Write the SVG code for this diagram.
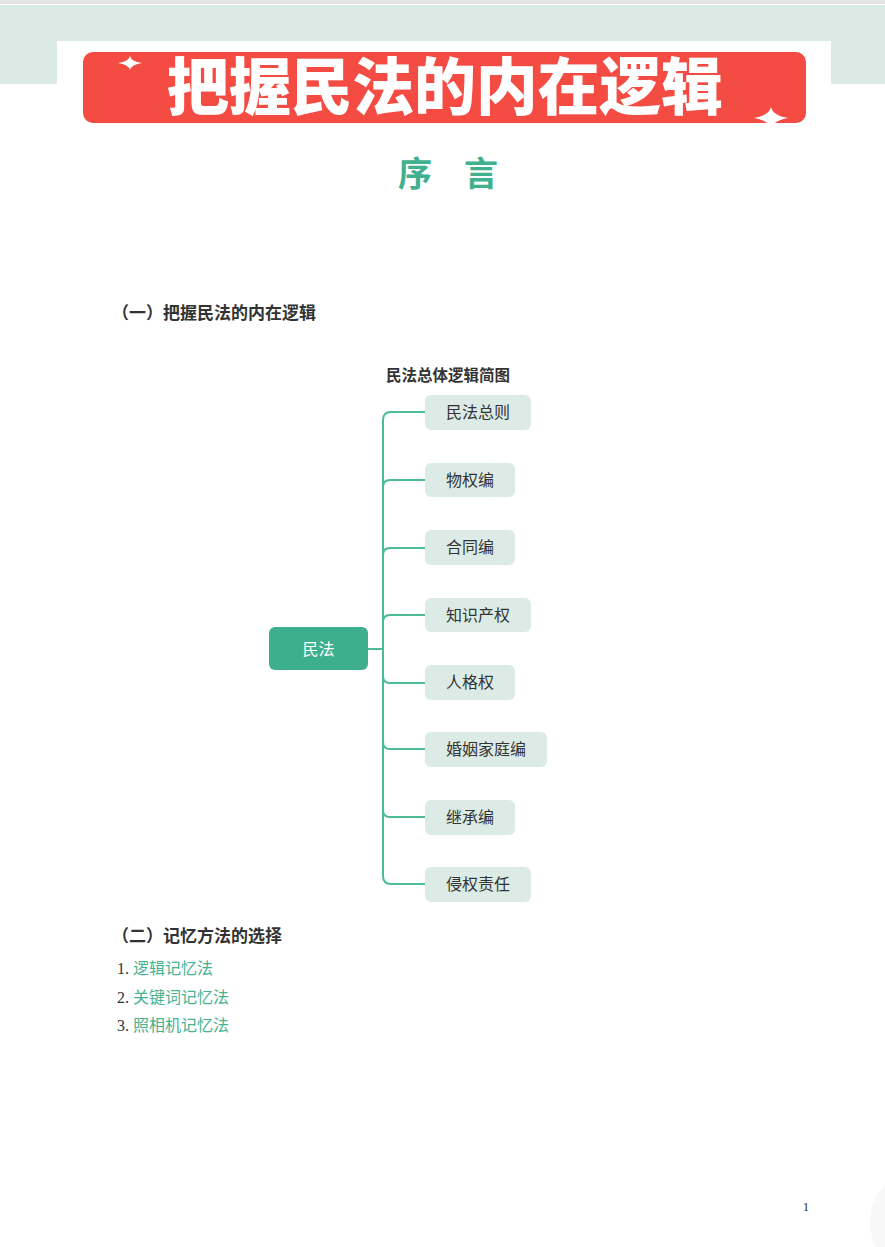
<svg xmlns="http://www.w3.org/2000/svg" width="885" height="1247" viewBox="0 0 885 1247">
<style>
.h{font-family:"Noto Sans CJK SC","Liberation Sans",sans-serif;font-weight:700;fill:#333;}
.leaf rect{fill:#dcebe6;}
.leaf text{font-family:"Liberation Serif","Noto Sans CJK SC",serif;font-size:16px;fill:#333;text-anchor:middle;}
.ln{fill:none;stroke:#4dba98;stroke-width:2;}
.num{font-family:"Liberation Serif","Noto Sans CJK SC",serif;font-size:16px;fill:#333;}
.g{font-family:"Noto Sans CJK SC","Liberation Sans",sans-serif;font-size:16px;fill:#45b391;}
</style>
<rect x="0" y="0" width="885" height="1247" fill="#ffffff"/>
<rect x="0" y="0" width="885" height="4" fill="#e4e4e4"/>
<rect x="0" y="5" width="885" height="79" fill="#dbeae5"/>
<rect x="57" y="41" width="774" height="60" fill="#ffffff"/>
<g id="banner">
<rect x="83" y="52" width="723" height="71" rx="10" fill="#f44b43"/>
<text x="445" y="110" font-family="Noto Sans CJK SC, sans-serif" font-weight="900" font-size="62" fill="#ffffff" text-anchor="middle" textLength="556" lengthAdjust="spacing">把握民法的内在逻辑</text>
<path d="M130 56 Q131.5 61.5 142 63 Q131.5 64.5 130 70 Q128.5 64.5 118 63 Q128.5 61.5 130 56 Z" fill="#ffffff"/>
<path d="M771 107 Q773 115.5 788 118 Q773 120.5 771 129 Q769 120.5 754 118 Q769 115.5 771 107 Z" fill="#ffffff"/>
</g>
<text x="398" y="186" font-family="Noto Sans CJK SC, sans-serif" font-weight="700" font-size="34" fill="#41b08e">序<tspan x="464">言</tspan></text>
<text class="h" x="112" y="319" font-size="17">（一）把握民法的内在逻辑</text>
<text class="h" x="448" y="381" font-size="15.5" text-anchor="middle">民法总体逻辑简图</text>
<g id="connectors">
<path class="ln" d="M368 649 H383"/>
<path class="ln" d="M425 412 H391 Q383 412 383 420 V876 Q383 884 391 884 H425"/>
<path class="ln" d="M425 480 H390 Q383 480 383 487"/>
<path class="ln" d="M425 548 H390 Q383 548 383 555"/>
<path class="ln" d="M425 615 H390 Q383 615 383 622"/>
<path class="ln" d="M425 683 H390 Q383 683 383 676"/>
<path class="ln" d="M425 749 H390 Q383 749 383 742"/>
<path class="ln" d="M425 817 H390 Q383 817 383 810"/>
</g>
<g id="root">
<rect x="269" y="627" width="99" height="43" rx="6" fill="#3daf8c"/>
<text x="318.5" y="655" font-family="Noto Sans CJK SC, sans-serif" font-size="16" fill="#ffffff" text-anchor="middle">民法</text>
</g>
<g id="n1" class="leaf"><rect x="425" y="395" width="106" height="35" rx="6"/><text x="478" y="418">民法总则</text></g>
<g id="n2" class="leaf"><rect x="425" y="463" width="90" height="34" rx="6"/><text x="470" y="486">物权编</text></g>
<g id="n3" class="leaf"><rect x="425" y="530" width="90" height="35" rx="6"/><text x="470" y="553">合同编</text></g>
<g id="n4" class="leaf"><rect x="425" y="598" width="106" height="34" rx="6"/><text x="478" y="621">知识产权</text></g>
<g id="n5" class="leaf"><rect x="425" y="665" width="90" height="35" rx="6"/><text x="470" y="688">人格权</text></g>
<g id="n6" class="leaf"><rect x="425" y="732" width="122" height="35" rx="6"/><text x="486" y="755">婚姻家庭编</text></g>
<g id="n7" class="leaf"><rect x="425" y="800" width="90" height="35" rx="6"/><text x="470" y="823">继承编</text></g>
<g id="n8" class="leaf"><rect x="425" y="867" width="106" height="35" rx="6"/><text x="478" y="890">侵权责任</text></g>
<text class="h" x="112" y="942" font-size="17">（二）记忆方法的选择</text>
<text class="num" x="117" y="974">1.</text><text class="g" x="133" y="974">逻辑记忆法</text>
<text class="num" x="117" y="1003">2.</text><text class="g" x="133" y="1003">关键词记忆法</text>
<text class="num" x="117" y="1031">3.</text><text class="g" x="133" y="1031">照相机记忆法</text>
<text x="803" y="1211" font-family="Liberation Serif, serif" font-size="12" fill="#222">1</text>
<ellipse cx="905" cy="1222" rx="35" ry="45" fill="#f8f8f8"/>
</svg>
